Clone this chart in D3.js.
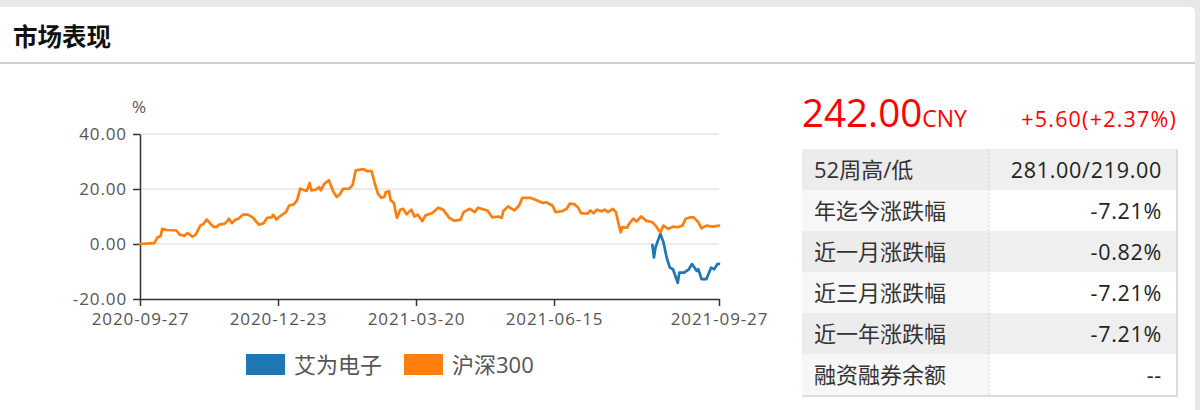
<!DOCTYPE html>
<html>
<head>
<meta charset="utf-8">
<script src="https://cdn.jsdelivr.net/npm/d3@7"></script>
<style>
  body { margin: 0; background: #e8e8e8; }
  svg { display: block; }
  text { font-family: "Open Sans", "Noto Sans CJK SC", sans-serif; }
</style>
</head>
<body>
<svg id="chart" width="1200" height="410"></svg>
<script>
// 沪深300 (% change since 2020-09-27)
var hsDates = ["2020-09-27","2020-10-06","2020-10-08","2020-10-10","2020-10-11","2020-10-14","2020-10-20","2020-10-22","2020-10-25","2020-10-27",
  "2020-10-30","2020-11-01","2020-11-04","2020-11-06","2020-11-08","2020-11-12","2020-11-14","2020-11-16","2020-11-19","2020-11-21",
  "2020-11-22","2020-11-24","2020-11-26","2020-11-28","2020-12-01","2020-12-04","2020-12-07","2020-12-11","2020-12-14","2020-12-16",
  "2020-12-19","2020-12-20","2020-12-22","2020-12-24","2020-12-28","2020-12-30","2021-01-02","2021-01-04","2021-01-06","2021-01-10",
  "2021-01-12","2021-01-13","2021-01-16","2021-01-18","2021-01-19","2021-01-21","2021-01-24","2021-01-27","2021-01-29","2021-01-31",
  "2021-02-02","2021-02-06","2021-02-08","2021-02-10","2021-02-15","2021-02-17","2021-02-20","2021-02-22","2021-02-24","2021-02-26",
  "2021-02-28","2021-03-01","2021-03-03","2021-03-04","2021-03-06","2021-03-08","2021-03-10","2021-03-12","2021-03-14","2021-03-17",
  "2021-03-19","2021-03-21","2021-03-24","2021-03-26","2021-03-30","2021-04-03","2021-04-06","2021-04-10","2021-04-13","2021-04-17",
  "2021-04-19","2021-04-23","2021-04-26","2021-04-28","2021-05-04","2021-05-07","2021-05-11","2021-05-13","2021-05-14","2021-05-17",
  "2021-05-21","2021-05-24","2021-05-26","2021-05-31","2021-06-04","2021-06-08","2021-06-10","2021-06-14","2021-06-16","2021-06-20",
  "2021-06-23","2021-06-25","2021-06-28","2021-06-30","2021-07-02","2021-07-06","2021-07-08","2021-07-10","2021-07-12","2021-07-15",
  "2021-07-17","2021-07-19","2021-07-22","2021-07-24","2021-07-27","2021-07-28","2021-07-31","2021-08-02","2021-08-04","2021-08-06",
  "2021-08-09","2021-08-12","2021-08-16","2021-08-18","2021-08-21","2021-08-23","2021-08-26","2021-08-29","2021-09-01","2021-09-04",
  "2021-09-06","2021-09-09","2021-09-11","2021-09-14","2021-09-16","2021-09-19","2021-09-23","2021-09-27"];
var hsValues = [0.0,0.3,2.4,2.8,5.5,5.1,4.9,3.4,3.0,4.0,
  2.7,3.3,6.7,7.3,8.9,6.4,6.1,7.1,7.3,8.3,
  9.2,7.6,8.8,9.2,10.7,10.7,9.7,7.0,7.6,9.5,
  9.7,10.6,8.9,10.0,11.6,14.0,14.4,15.9,20.1,19.3,
  22.2,19.5,19.8,20.7,19.5,21.7,23.2,18.9,17.1,18.1,
  20.1,20.1,21.4,26.8,27.2,26.5,26.5,22.0,18.3,16.8,
  17.1,18.9,19.2,15.9,14.9,9.5,12.4,12.8,10.8,12.5,
  10.0,10.7,8.3,10.4,11.2,13.2,12.5,9.5,8.5,8.8,
  11.6,12.8,11.6,13.2,12.2,9.7,10.0,9.5,11.9,13.7,
  12.2,14.0,16.8,16.8,15.9,14.9,15.2,14.0,11.6,11.9,
  12.8,14.7,14.4,13.4,11.2,11.0,12.2,11.2,12.5,11.9,
  12.5,11.6,12.8,11.6,4.2,6.1,5.9,7.9,9.2,8.2,
  10.0,8.5,7.9,6.7,4.2,6.7,5.5,6.3,6.1,6.7,
  9.2,9.7,9.7,7.9,5.7,6.7,6.3,6.7];

// 艾为电子 (% change, listed 2021-08)
var awDates = ["2021-08-16","2021-08-17","2021-08-18","2021-08-21","2021-08-23","2021-08-25","2021-08-27","2021-08-29","2021-09-01","2021-09-02",
  "2021-09-05","2021-09-08","2021-09-10","2021-09-13","2021-09-14","2021-09-16","2021-09-19","2021-09-22","2021-09-24","2021-09-26","2021-09-27"];
var awValues = [-0.3,-4.9,-1.2,3.7,0.6,-4.9,-8.6,-9.2,-14.1,-10.4,
  -10.4,-9.2,-7.3,-9.8,-9.2,-12.8,-12.8,-8.6,-9.2,-7.3,-7.2];

var seriesNames = ["艾为电子", "沪深300"];
var yTicks = [-20, 0, 20, 40];
var xTicks = ["2020-09-27", "2020-12-23", "2021-03-20", "2021-06-15", "2021-09-27"];

var price = "242.00";
var currency = "CNY";
var change = "+5.60(+2.37%)";
var statLabels = ["52周高/低", "年迄今涨跌幅", "近一月涨跌幅", "近三月涨跌幅", "近一年涨跌幅", "融资融券余额"];
var statValues = ["281.00/219.00", "-7.21%", "-0.82%", "-7.21%", "-7.21%", "--"];

//-------------------------------
var colors = ["#1f77b4", "#ff7f0e"];
var parse = d3.timeParse("%Y-%m-%d");
var svg = d3.select("#chart");

// white card + header
svg.append("path")
  .attr("d", "M0,7 H1190 A5,5 0 0 1 1195,12 V410 H0 Z")
  .attr("fill", "#fff");
svg.append("line")
  .attr("x1", 0).attr("x2", 1195).attr("y1", 63).attr("y2", 63)
  .attr("stroke", "#cfcfcf").attr("stroke-width", 2);
svg.append("text")
  .attr("x", 13).attr("y", 46)
  .attr("font-size", 24.5).attr("font-weight", "bold").attr("fill", "#111")
  .text("市场表现");

// scales
var x = d3.scaleTime()
  .domain([parse(xTicks[0]), parse(xTicks[xTicks.length - 1])])
  .range([140, 719]);
var y = d3.scaleLinear().domain([-20, 40]).range([299, 134]);

// grid
svg.append("g").selectAll("line")
  .data(yTicks.filter(function(d) { return d > -20; }))
  .enter().append("line")
    .attr("x1", x.range()[0]).attr("x2", x.range()[1])
    .attr("y1", function(d) { return y(d); }).attr("y2", function(d) { return y(d); })
    .attr("stroke", "#e4e4e4").attr("stroke-width", 1.5);

// axes
var axisY = svg.append("g")
  .attr("transform", "translate(140,0)")
  .call(d3.axisLeft(y).tickValues(yTicks)
    .tickFormat(function(d) { return d.toFixed(2); })
    .tickSizeInner(7).tickSizeOuter(0).tickPadding(6));
var axisX = svg.append("g")
  .attr("transform", "translate(0,299)")
  .call(d3.axisBottom(x).tickValues(xTicks.map(parse))
    .tickFormat(d3.timeFormat("%Y-%m-%d"))
    .tickSizeInner(7).tickSizeOuter(0).tickPadding(7));

[axisX, axisY].forEach(function(a) {
  a.select(".domain").attr("stroke", "#333").attr("stroke-width", 1.5);
  a.selectAll(".tick line").attr("stroke", "#333").attr("stroke-width", 1.5);
  a.selectAll(".tick text")
    .attr("fill", "#555")
    .style("font-size", "17px")
    .style("font-family", "'Open Sans', sans-serif")
    .style("letter-spacing", "0.9px");
});

svg.append("text")
  .attr("x", 139).attr("y", 113).attr("text-anchor", "middle")
  .attr("font-size", 17).attr("fill", "#555")
  .text("%");

// lines
var line = d3.line()
  .x(function(d) { return x(d.date); })
  .y(function(d) { return y(d.value); });

var series = [
  awDates.map(function(d, i) { return { date: parse(d), value: awValues[i] }; }),
  hsDates.map(function(d, i) { return { date: parse(d), value: hsValues[i] }; })
];

svg.append("g").selectAll("path")
  .data(series)
  .enter().append("path")
    .attr("d", line)
    .attr("fill", "none")
    .attr("stroke", function(d, i) { return colors[i]; })
    .attr("stroke-width", 2.7)
    .attr("stroke-linejoin", "round")
    .attr("stroke-linecap", "round");

// legend
var legend = svg.append("g").selectAll("g")
  .data(seriesNames)
  .enter().append("g")
    .attr("transform", function(d, i) { return "translate(" + (246 + i * 158) + ",354)"; });
legend.append("rect")
  .attr("width", 39).attr("height", 21)
  .attr("fill", function(d, i) { return colors[i]; });
legend.append("text")
  .attr("x", 48).attr("y", 18.5)
  .attr("font-size", 22).attr("fill", "#555")
  .text(function(d) { return d; });

// price block
var priceText = svg.append("text")
  .attr("x", 802).attr("y", 127).attr("fill", "#f00");
priceText.append("tspan").attr("font-size", 38.5).text(price);
priceText.append("tspan").attr("font-size", 23).text(currency);

svg.append("text")
  .attr("x", 1177).attr("y", 127).attr("text-anchor", "end")
  .attr("font-size", 21.5).attr("fill", "#f00")
  .style("letter-spacing", "1.2px")
  .text(change);

// stats table
var rowTop = 149, rowH = 41, tLeft = 802, tMid = 989, tRight = 1176;
var rows = svg.append("g").selectAll("g")
  .data(statLabels)
  .enter().append("g")
    .attr("transform", function(d, i) { return "translate(0," + (rowTop + i * rowH) + ")"; });
rows.append("rect")
  .attr("x", tLeft).attr("width", tMid - tLeft).attr("height", rowH)
  .attr("fill", function(d, i) { return i % 2 == 0 ? "#ececec" : "#f7f7f7"; });
rows.append("rect")
  .attr("x", tMid).attr("width", tRight - tMid).attr("height", rowH)
  .attr("fill", function(d, i) { return i % 2 == 0 ? "#efefef" : "#fff"; });
rows.append("text")
  .attr("x", 814).attr("y", 29)
  .attr("font-size", 22).attr("fill", "#333")
  .text(function(d) { return d; });
rows.append("text")
  .attr("x", 1162).attr("y", 29).attr("text-anchor", "end")
  .attr("font-size", 21.5).attr("fill", "#222")
  .style("letter-spacing", "0.7px")
  .text(function(d, i) { return statValues[i]; });

var tBottom = rowTop + statLabels.length * rowH;
svg.append("line")
  .attr("x1", tMid).attr("x2", tMid).attr("y1", rowTop).attr("y2", tBottom)
  .attr("stroke", "#d0d0d0").attr("stroke-dasharray", "2,2");
svg.append("path")
  .attr("d", "M" + (tRight + 1) + "," + rowTop + " V" + (tBottom + 1) + " H" + tLeft)
  .attr("fill", "none").attr("stroke", "#dcdcdc").attr("stroke-width", 2);
</script>
</body>
</html>
